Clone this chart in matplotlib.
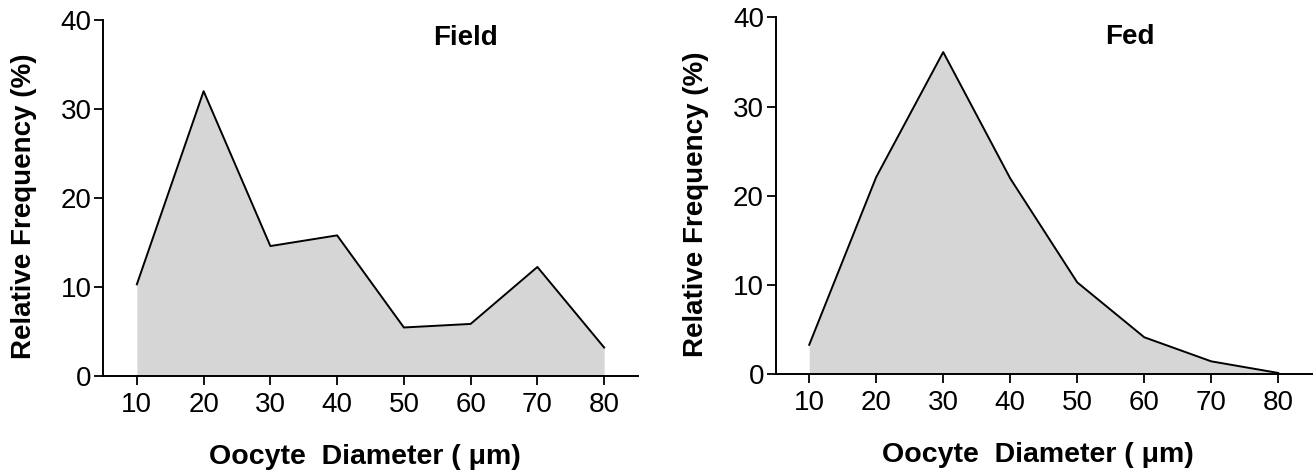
import matplotlib
matplotlib.use('Agg')
import matplotlib.pyplot as plt
import numpy as np

plt.rcParams['font.family'] = ['Liberation Sans', 'DejaVu Sans']

diameters = [10, 20, 30, 40, 50, 60, 70, 80]
field_freq = [10.3, 32.0, 14.6, 15.8, 5.45, 5.85, 12.25, 3.2]
fed_freq = [3.3, 22.1, 36.1, 21.95, 10.3, 4.15, 1.45, 0.15]
yticks = [0, 10, 20, 30, 40]
panel_titles = ['Field', 'Fed']
xlabel_text = 'Oocyte  Diameter ( μm)'
ylabel_text = 'Relative Frequency (%)'

fill_col = '#d6d6d6'
tick_font = ['Liberation Sans Narrow', 'Liberation Sans', 'DejaVu Sans']

fig = plt.figure(figsize=(13.15, 4.76), dpi=100)
ax1 = fig.add_axes([0.0787, 0.2101, 0.4061, 0.7479])
ax2 = fig.add_axes([0.5899, 0.2137, 0.4076, 0.7500])

title_pos = [(59.2, 38.0), (57.9, 37.8)]

for ax, vals, ttl, tp in zip([ax1, ax2], [field_freq, fed_freq], panel_titles, title_pos):
    ax.fill_between(diameters, 0, vals, color=fill_col, linewidth=0)
    ax.plot(diameters, vals, color='black', linewidth=1.4)
    ax.set_xlim(5, 85)
    ax.set_ylim(0, 40)
    ax.set_xticks(diameters)
    ax.set_yticks(yticks)
    for s in ['top', 'right']:
        ax.spines[s].set_visible(False)
    for s in ['left', 'bottom']:
        ax.spines[s].set_linewidth(1.4)
    ax.tick_params(axis='both', direction='out', length=6.5, width=1.3)
    ax.tick_params(axis='x', pad=5)
    ax.tick_params(axis='y', pad=2)
    for lab in ax.get_xticklabels() + ax.get_yticklabels():
        lab.set_family(tick_font)
        lab.set_fontsize(20)
    ax.text(tp[0], tp[1], ttl, ha='center', va='center',
            fontsize=20, fontweight='bold')
    ax.set_xlabel(xlabel_text, fontsize=20.5, fontweight='bold')
    ax.set_ylabel(ylabel_text, fontsize=20, fontweight='bold')
    ax.xaxis.set_label_coords(0.49, -0.19)
    ax.yaxis.set_label_coords(-0.124, 0.476)

fig.savefig('out.png', dpi=100)
